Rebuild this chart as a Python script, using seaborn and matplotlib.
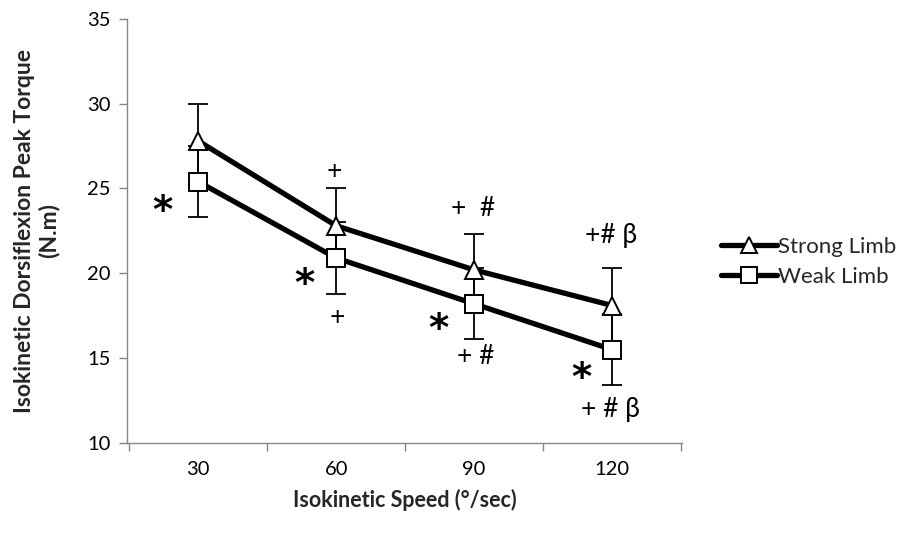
import matplotlib
matplotlib.use("Agg")
import matplotlib.pyplot as plt
from matplotlib.lines import Line2D
import numpy as np
import pandas as pd
import seaborn as sns

# Data: isokinetic dorsiflexion peak torque (mean ± SD)
speeds = ["30", "60", "90", "120"]
strong_mean = [27.8, 22.8, 20.2, 18.1]
strong_sd = [2.2, 2.2, 2.1, 2.2]
weak_mean = [25.4, 20.9, 18.2, 15.5]
weak_sd = [2.1, 2.1, 2.1, 2.1]
series_names = ["Strong Limb", "Weak Limb"]

# Significance marks: (x index, y value, text)
star_marks = [(-0.26, 23.6), (0.77, 19.3), (1.74, 16.65), (2.78, 13.75)]
sig_marks = [
    (0.99, 26.0, "+"),
    (1.01, 17.4, "+"),
    (1.99, 23.8, "+  #"),
    (2.01, 15.1, "+ #"),
    (2.99, 22.2, "+# β"),
    (2.99, 12.0, "+ # β"),
]

sns.set_theme(style="white")
plt.rcParams["font.family"] = ["Lato", "DejaVu Sans"]

df = pd.DataFrame({
    "x": list(range(len(speeds))) * 2,
    "torque": strong_mean + weak_mean,
    "limb": [series_names[0]] * len(speeds) + [series_names[1]] * len(speeds),
})

fig = plt.figure(figsize=(9.14, 5.35), dpi=100)
ax = fig.add_axes([0.139, 0.172, 0.607, 0.793])

xs = np.arange(len(speeds))
# Error bars underneath the lines
ax.errorbar(xs, strong_mean, yerr=strong_sd, fmt="none", ecolor="black",
            elinewidth=1.3, capsize=7, capthick=1.3, zorder=2)
ax.errorbar(xs, weak_mean, yerr=weak_sd, fmt="none", ecolor="black",
            elinewidth=1.3, capsize=7, capthick=1.3, zorder=2)

sns.lineplot(data=df, x="x", y="torque", hue="limb", style="limb",
             palette=["black", "black"], markers={"Strong Limb": "^", "Weak Limb": "s"},
             dashes=False, linewidth=3.8, markersize=13, legend=False, ax=ax, zorder=3)
for ln in ax.lines:
    if ln.get_marker() in ("^", "s"):
        ln.set_markerfacecolor("white")
        ln.set_markeredgecolor("black")
        ln.set_markeredgewidth(1.4)

for x, y in star_marks:
    ax.text(x, y, "*", fontsize=28, ha="center", va="center", color="black",
            family="DejaVu Sans", fontweight="bold")
for x, y, t in sig_marks:
    ax.text(x, y, t, fontsize=19, ha="center", va="center", color="black")

ax.set_xlim(-0.515, 3.505)
ax.set_ylim(10, 35)
ax.set_yticks(range(10, 36, 5))
ax.set_xticks(xs)
ax.set_xticklabels(speeds)
ax.set_xticks(np.arange(-0.5, 3.6, 1.0), minor=True)
ax.tick_params(axis="x", which="major", length=0, labelsize=14.5, pad=13, colors="black")
ax.tick_params(axis="x", which="minor", length=6, width=1, color="#868686", direction="out")
ax.tick_params(axis="y", length=6, width=1, color="#868686", direction="out",
               labelsize=14.5, left=True, colors="black", pad=6)
ax.yaxis.set_tick_params(color="#868686")
ax.xaxis.set_tick_params(which="minor", bottom=True)

for side in ("top", "right"):
    ax.spines[side].set_visible(False)
for side in ("left", "bottom"):
    ax.spines[side].set_color("#868686")
    ax.spines[side].set_linewidth(1.0)

ax.set_xlabel("Isokinetic Speed (°/sec)", fontsize=15.5, fontweight="bold", labelpad=8)
ax.set_ylabel("Isokinetic Dorsiflexion Peak Torque\n(N.m)", fontsize=16.5,
              fontweight="bold", labelpad=20, linespacing=1.15)

handles = [
    Line2D([], [], color="black", lw=3.8, marker="^", markersize=12,
           markerfacecolor="white", markeredgecolor="black", markeredgewidth=1.4),
    Line2D([], [], color="black", lw=3.8, marker="s", markersize=12,
           markerfacecolor="white", markeredgecolor="black", markeredgewidth=1.4),
]
fig.legend(handles, series_names, loc="center left", bbox_to_anchor=(0.767, 0.51),
           frameon=False, fontsize=16, handlelength=2.5, handletextpad=0.05,
           labelspacing=0.45)

fig.savefig("out.png", dpi=100, facecolor="white")
